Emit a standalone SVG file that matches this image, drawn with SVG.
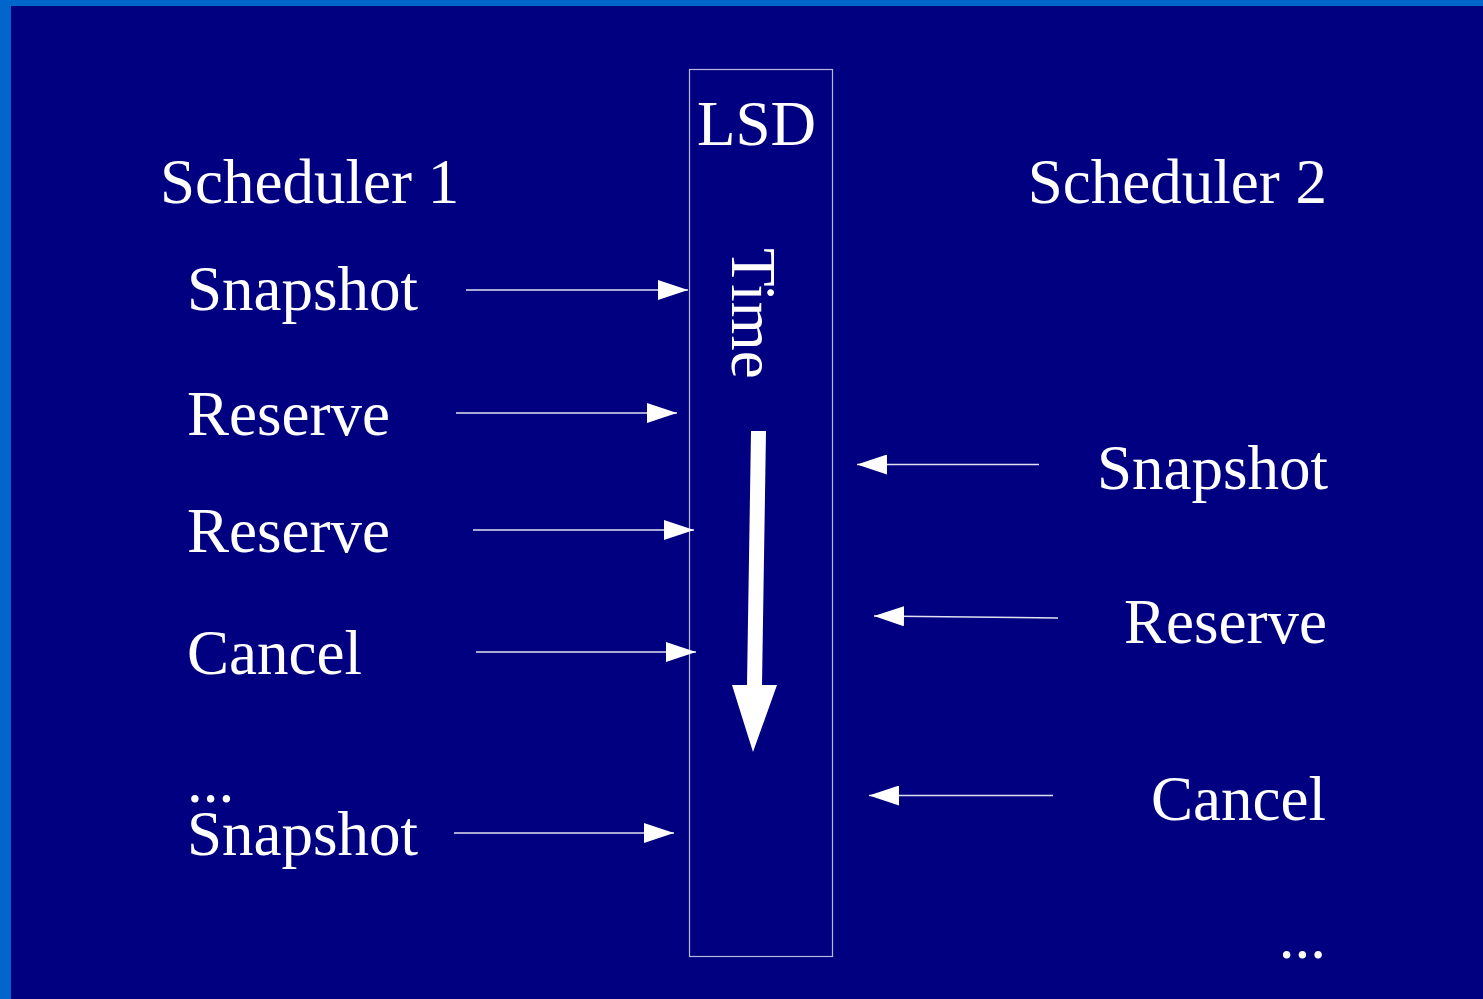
<svg xmlns="http://www.w3.org/2000/svg" width="1483" height="999" viewBox="0 0 1483 999">
<defs>
<style>
.t{font-family:"Liberation Serif","Times New Roman",serif;font-size:63px;fill:#ffffff}
.r{text-anchor:end}
.c{stroke:#e0e0f0;stroke-width:1.4;fill:none}
.h{fill:#ffffff}
</style>
<marker id="ah" markerUnits="userSpaceOnUse" markerWidth="30" markerHeight="20" viewBox="0 0 30 20" refX="30" refY="10" orient="auto">
<path d="M0,0 L30,10 L0,20 Z" class="h"/>
</marker>
</defs>
<rect x="0" y="0" width="1483" height="999" fill="#0066cc"/>
<rect x="11" y="6" width="1472" height="993" fill="#000080"/>
<g id="lsd">
<rect x="689.5" y="69.5" width="143" height="887" fill="none" stroke="#b8b8d8" stroke-width="1.2"/>
<text class="t" x="697" y="145">LSD</text>
<text class="t" transform="translate(732,248) rotate(90)">Time</text>
<polygon class="h" points="751,431 766,431 762,685 777,685 753,752 732,685 747,685"/>
</g>
<g id="scheduler1">
<text class="t" x="160" y="203">Scheduler 1</text>
<text class="t" x="187" y="310">Snapshot</text>
<text class="t" x="187" y="435">Reserve</text>
<text class="t" x="187" y="552">Reserve</text>
<text class="t" x="187" y="674">Cancel</text>
<text class="t" x="187" y="802">...</text>
<text class="t" x="187" y="855">Snapshot</text>
</g>
<g id="scheduler2">
<text class="t r" x="1327" y="203">Scheduler 2</text>
<text class="t r" x="1328" y="489">Snapshot</text>
<text class="t r" x="1327" y="643">Reserve</text>
<text class="t r" x="1326" y="820">Cancel</text>
<text class="t r" x="1326" y="958">...</text>
</g>
<g id="connectors">
<line class="c" x1="466" y1="290" x2="688" y2="290" marker-end="url(#ah)"/>
<line class="c" x1="456" y1="413" x2="677" y2="413" marker-end="url(#ah)"/>
<line class="c" x1="473" y1="530" x2="694" y2="530" marker-end="url(#ah)"/>
<line class="c" x1="476" y1="652" x2="696" y2="652" marker-end="url(#ah)"/>
<line class="c" x1="454" y1="833" x2="674" y2="833" marker-end="url(#ah)"/>
<line class="c" x1="1039" y1="464.5" x2="857" y2="464.5" marker-end="url(#ah)"/>
<line class="c" x1="1058" y1="618" x2="874" y2="616" marker-end="url(#ah)"/>
<line class="c" x1="1053" y1="795.5" x2="869" y2="795.5" marker-end="url(#ah)"/>
</g>
</svg>
